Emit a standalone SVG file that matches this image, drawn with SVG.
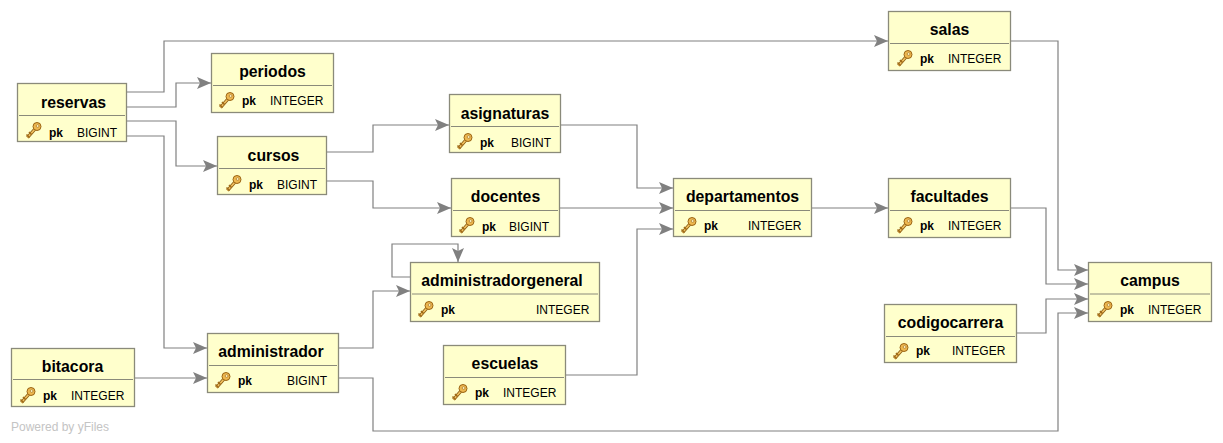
<svg xmlns="http://www.w3.org/2000/svg" xmlns:xlink="http://www.w3.org/1999/xlink" width="1223" height="443" viewBox="0 0 1223 443">
<style>
.box{fill:#ffffcc;stroke:#8a8a7a;stroke-width:1.3}
.div{stroke:#8a8a7a;stroke-width:1}
.t{font:bold 15.8px "Liberation Sans",Arial,sans-serif;text-anchor:middle;fill:#000}
.pk{font:bold 12px "Liberation Sans",Arial,sans-serif;fill:#000}
.ty{font:12px "Liberation Sans",Arial,sans-serif;fill:#000}
.e{fill:none;stroke:#808080;stroke-width:1.2;marker-end:url(#a)}
.wm{font:12px "Liberation Sans",Arial,sans-serif;fill:#c4c4c4}
</style>
<defs>
<marker id="a" markerUnits="userSpaceOnUse" markerWidth="15" markerHeight="12" refX="14" refY="6" orient="auto"><path d="M0 0L14 6L0 12L3 6Z" fill="#808080"/></marker>
<g id="key" transform="translate(2,1)">
<path d="M-6.5 8.5L1 0" stroke="#8a5a10" stroke-width="3.4" fill="none"/>
<path d="M-6.5 8.5L1 0" stroke="#f0c060" stroke-width="1.8" fill="none"/>
<path d="M-7.5 5.5L-4.5 8.5M-5 3L-2.5 5.5" stroke="#a06a18" stroke-width="1.6" fill="none"/>
<circle cx="3" cy="-2.5" r="4" fill="#eeb850" stroke="#9a6414"/>
<circle cx="3.6" cy="-3" r="1.4" fill="#fff3c0" stroke="#9a6414" stroke-width=".6"/>
</g>
</defs>
<g id="connectors">
<path class="e" d="M127 92H164V41H888"/>
<path class="e" d="M127 107H176V83H211"/>
<path class="e" d="M127 121H176V166H217"/>
<path class="e" d="M127 136H164V348H207"/>
<path class="e" d="M327 152H373V125H449"/>
<path class="e" d="M327 181H373V208H451"/>
<path class="e" d="M561 125H637V188H673"/>
<path class="e" d="M560 208H673"/>
<path class="e" d="M565 375H637V229H673"/>
<path class="e" d="M811 208H888"/>
<path class="e" d="M1010 41H1058V270H1088"/>
<path class="e" d="M1010 208H1046V284H1088"/>
<path class="e" d="M1016 333H1046V299H1088"/>
<path class="e" d="M338 378H373V431H1058V313H1088"/>
<path class="e" d="M338 348H373V291H410"/>
<path class="e" d="M410 277H392V244H458V262"/>
<path class="e" d="M134 378H207"/>
</g>
<g id="reservas"><rect class="box" x="17.5" y="83.5" width="109" height="58"/><path class="div" d="M19 115.5H125"/><text class="t" x="73.5" y="108">reservas</text><use xlink:href="#key" href="#key" x="32" y="128"/><text class="pk" x="49" y="137">pk</text><text class="ty" x="77" y="137">BIGINT</text></g>
<g id="periodos"><rect class="box" x="211.5" y="53.5" width="122" height="59"/><path class="div" d="M213 85.5H332"/><text class="t" x="272.5" y="77">periodos</text><use xlink:href="#key" href="#key" x="225" y="98"/><text class="pk" x="242" y="105">pk</text><text class="ty" x="270" y="105">INTEGER</text></g>
<g id="cursos"><rect class="box" x="217.5" y="136.5" width="109" height="58"/><path class="div" d="M219 168.5H325"/><text class="t" x="273.5" y="161">cursos</text><use xlink:href="#key" href="#key" x="232" y="181"/><text class="pk" x="249" y="189">pk</text><text class="ty" x="277" y="189">BIGINT</text></g>
<g id="asignaturas"><rect class="box" x="449.5" y="94.5" width="111" height="58"/><path class="div" d="M451 126.5H559"/><text class="t" x="505" y="119">asignaturas</text><use xlink:href="#key" href="#key" x="463" y="139"/><text class="pk" x="480" y="147">pk</text><text class="ty" x="511" y="147">BIGINT</text></g>
<g id="docentes"><rect class="box" x="451.5" y="178.5" width="108" height="58"/><path class="div" d="M453 210.5H558"/><text class="t" x="505.5" y="202">docentes</text><use xlink:href="#key" href="#key" x="465" y="223"/><text class="pk" x="482" y="231">pk</text><text class="ty" x="509" y="231">BIGINT</text></g>
<g id="departamentos"><rect class="box" x="673.5" y="178.5" width="138" height="58"/><path class="div" d="M675 210.5H810"/><text class="t" x="742.5" y="202">departamentos</text><use xlink:href="#key" href="#key" x="687" y="223"/><text class="pk" x="704" y="230">pk</text><text class="ty" x="748" y="230">INTEGER</text></g>
<g id="salas"><rect class="box" x="888.5" y="11.5" width="122" height="59"/><path class="div" d="M890 43.5H1009"/><text class="t" x="949.5" y="35">salas</text><use xlink:href="#key" href="#key" x="903" y="56"/><text class="pk" x="920" y="63">pk</text><text class="ty" x="948" y="63">INTEGER</text></g>
<g id="facultades"><rect class="box" x="888.5" y="178.5" width="122" height="59"/><path class="div" d="M890 210.5H1009"/><text class="t" x="949.5" y="202">facultades</text><use xlink:href="#key" href="#key" x="903" y="223"/><text class="pk" x="920" y="230">pk</text><text class="ty" x="948" y="230">INTEGER</text></g>
<g id="campus"><rect class="box" x="1088.5" y="262.5" width="123" height="59"/><path class="div" d="M1090 294H1210"/><text class="t" x="1150" y="286">campus</text><use xlink:href="#key" href="#key" x="1103" y="307"/><text class="pk" x="1120" y="314">pk</text><text class="ty" x="1148" y="314">INTEGER</text></g>
<g id="codigocarrera"><rect class="box" x="884.5" y="304.5" width="132" height="58"/><path class="div" d="M886 336.5H1015"/><text class="t" x="950.5" y="328">codigocarrera</text><use xlink:href="#key" href="#key" x="899" y="349"/><text class="pk" x="916" y="355">pk</text><text class="ty" x="952" y="355">INTEGER</text></g>
<g id="administradorgeneral"><rect class="box" x="410.5" y="262.5" width="189" height="59"/><path class="div" d="M412 294H598"/><text class="t" x="502" y="286">administradorgeneral</text><use xlink:href="#key" href="#key" x="424" y="307"/><text class="pk" x="441" y="314">pk</text><text class="ty" x="536" y="314">INTEGER</text></g>
<g id="escuelas"><rect class="box" x="443.5" y="345.5" width="122" height="59"/><path class="div" d="M445 377.5H564"/><text class="t" x="505" y="369">escuelas</text><use xlink:href="#key" href="#key" x="458" y="390"/><text class="pk" x="475" y="397">pk</text><text class="ty" x="503" y="397">INTEGER</text></g>
<g id="administrador"><rect class="box" x="207.5" y="333.5" width="131" height="59"/><path class="div" d="M209 365.5H337"/><text class="t" x="271" y="357">administrador</text><use xlink:href="#key" href="#key" x="221" y="378"/><text class="pk" x="238" y="385">pk</text><text class="ty" x="287" y="385">BIGINT</text></g>
<g id="bitacora"><rect class="box" x="11.5" y="348.5" width="123" height="58"/><path class="div" d="M13 379.5H133"/><text class="t" x="72.5" y="372">bitacora</text><use xlink:href="#key" href="#key" x="26" y="393"/><text class="pk" x="43" y="400">pk</text><text class="ty" x="71" y="400">INTEGER</text></g>
<text class="wm" x="11" y="431">Powered by yFiles</text>
</svg>
